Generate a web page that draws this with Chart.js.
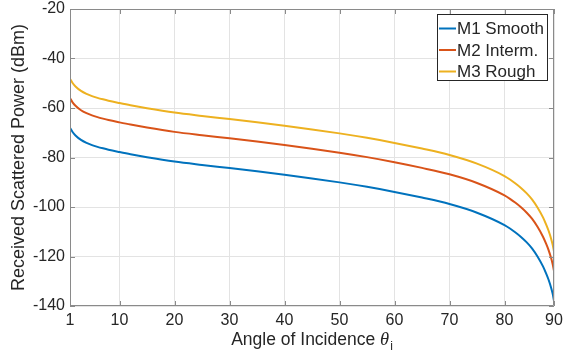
<!DOCTYPE html>
<html>
<head>
<meta charset="utf-8">
<script src="https://cdn.jsdelivr.net/npm/chart.js@4.4.1/dist/chart.umd.min.js"></script>
<style>
  html, body { margin: 0; padding: 0; background: #fff; }
</style>
</head>
<body>
<canvas id="chart" width="563" height="358"></canvas>
<script>
// angle of incidence (deg) and received power (dBm)
const angles = [1, 1.5, 2, 3, 4, 5, 6, 7, 8, 10, 12, 15, 20, 25, 30, 35, 40, 45, 50, 55, 60, 65, 70, 75,
  80, 81, 82, 83, 84, 85, 86, 87, 87.5, 88, 88.5, 88.75, 89];
const m1Smooth = [-68.0, -69.8, -71.1, -72.9, -74.1, -75.0, -75.7, -76.3, -76.85, -77.8, -78.7, -79.9,
  -81.65, -83.0, -84.25, -85.55, -86.95, -88.45, -90.05, -91.85, -93.9, -96.2, -98.8, -102.3,
  -107.3, -108.7, -110.3, -112.1, -114.2, -116.7, -120.0, -124.0, -126.5, -129.3, -132.8, -135.0, -137.9];
const m2Interm = [-56.0, -57.8, -59.1, -60.9, -62.1, -63.0, -63.7, -64.3, -64.85, -65.8, -66.7, -67.9,
  -69.65, -71.0, -72.25, -73.55, -74.95, -76.45, -78.05, -79.85, -81.9, -84.2, -86.8, -90.3,
  -95.3, -96.7, -98.3, -100.1, -102.2, -104.7, -108.0, -112.0, -114.5, -117.3, -120.8, -123.0, -125.8];
const m3Rough = [-48.2, -50.0, -51.3, -53.1, -54.3, -55.2, -55.9, -56.5, -57.05, -58.0, -58.9, -60.1,
  -61.85, -63.2, -64.45, -65.75, -67.15, -68.65, -70.25, -72.05, -74.1, -76.4, -79.0, -82.5,
  -87.5, -88.9, -90.5, -92.3, -94.4, -96.9, -100.2, -104.2, -106.7, -109.5, -113.0, -115.2, -118.0];

const seriesNames = ['M1 Smooth', 'M2 Interm.', 'M3 Rough'];
const seriesColors = ['#0072BD', '#D95319', '#EDB120'];

const xTickValues = [1, 10, 20, 30, 40, 50, 60, 70, 80, 89];
const xTickLabels = ['1', '10', '20', '30', '40', '50', '60', '70', '80', '90'];

const FONT = '"Liberation Sans", Arial, Helvetica, sans-serif';
const TXT = '#262626';
const AXIS = '#8a8a8a';

function toPoints(ys) {
  return angles.map((a, i) => ({ x: a, y: ys[i] }));
}

// box, inward ticks, axis titles and the boxed legend, MATLAB style
const matlabDecor = {
  id: 'matlabDecor',
  afterDatasetsDraw(chart) {
    const { ctx, chartArea: a, scales } = chart;
    ctx.save();
    ctx.strokeStyle = AXIS;
    ctx.lineWidth = 1;
    ctx.beginPath();
    ctx.rect(Math.round(a.left) + 0.5, Math.round(a.top) + 0.5,
      Math.round(a.right - a.left) - 1, Math.round(a.bottom - a.top) - 1);
    ctx.stroke();

    const tl = 5;
    ctx.beginPath();
    scales.x.ticks.forEach(t => {
      const px = Math.round(scales.x.getPixelForValue(t.value)) + 0.5;
      ctx.moveTo(px, a.bottom); ctx.lineTo(px, a.bottom - tl);
      ctx.moveTo(px, a.top); ctx.lineTo(px, a.top + tl);
    });
    scales.y.ticks.forEach(t => {
      const py = Math.round(scales.y.getPixelForValue(t.value)) + 0.5;
      ctx.moveTo(a.left, py); ctx.lineTo(a.left + tl, py);
      ctx.moveTo(a.right, py); ctx.lineTo(a.right - tl, py);
    });
    ctx.stroke();
    ctx.restore();
  },
  afterDraw(chart) {
    const { ctx, chartArea: a } = chart;
    ctx.save();
    ctx.fillStyle = TXT;

    // y title
    ctx.save();
    ctx.translate(19, (a.top + a.bottom) / 2);
    ctx.rotate(-Math.PI / 2);
    ctx.font = '18px ' + FONT;
    ctx.textAlign = 'center';
    ctx.textBaseline = 'middle';
    ctx.fillText('Received Scattered Power (dBm)', 0, 0);
    ctx.restore();

    // x title with italic theta and subscript i
    const main = 'Angle of Incidence ';
    const fMain = '17.5px ' + FONT;
    const fTheta = 'italic 18.5px "Liberation Serif", "DejaVu Serif", serif';
    const fSub = '12px ' + FONT;
    ctx.font = fMain; const w1 = ctx.measureText(main).width;
    ctx.font = fTheta; const w2 = ctx.measureText('θ').width;
    ctx.font = fSub; const w3 = ctx.measureText('i').width;
    const x0 = (a.left + a.right) / 2 - (w1 + w2 + w3 + 1) / 2;
    const base = 345;
    ctx.textAlign = 'left';
    ctx.textBaseline = 'alphabetic';
    ctx.font = fMain; ctx.fillText(main, x0, base);
    ctx.font = fTheta; ctx.fillText('θ', x0 + w1, base);
    ctx.font = fSub; ctx.fillText('i', x0 + w1 + w2 + 1, base + 5);

    // legend
    const lx = 437.5, ly = 14.5, lw = 110, lh = 66;
    ctx.fillStyle = '#fff';
    ctx.fillRect(lx, ly, lw, lh);
    ctx.strokeStyle = TXT;
    ctx.lineWidth = 1;
    ctx.strokeRect(lx, ly, lw, lh);
    ctx.font = '17px ' + FONT;
    ctx.textBaseline = 'middle';
    chart.data.datasets.forEach((ds, i) => {
      const cy = 28.5 + i * 21.5;
      ctx.strokeStyle = ds.borderColor;
      ctx.lineWidth = 2;
      ctx.beginPath();
      ctx.moveTo(439, cy); ctx.lineTo(456, cy);
      ctx.stroke();
      ctx.fillStyle = TXT;
      ctx.fillText(ds.label, 457, cy + 1);
    });
    ctx.restore();
  }
};

new Chart(document.getElementById('chart'), {
  type: 'line',
  data: {
    datasets: [
      { label: seriesNames[0], data: toPoints(m1Smooth), borderColor: seriesColors[0] },
      { label: seriesNames[1], data: toPoints(m2Interm), borderColor: seriesColors[1] },
      { label: seriesNames[2], data: toPoints(m3Rough), borderColor: seriesColors[2] },
    ],
  },
  options: {
    responsive: false,
    animation: false,
    layout: { padding: { top: 9, right: 9, left: 0, bottom: 0 } },
    elements: {
      point: { radius: 0 },
      line: { borderWidth: 2, cubicInterpolationMode: 'monotone', fill: false },
    },
    plugins: { legend: { display: false }, tooltip: { enabled: false } },
    scales: {
      x: {
        type: 'linear',
        min: 1,
        max: 89,
        afterBuildTicks: s => { s.ticks = xTickValues.map(v => ({ value: v })); },
        afterFit: s => { s.height = 52; s.paddingLeft = 0; s.paddingRight = 0; },
        ticks: {
          callback: (v, i) => xTickLabels[i],
          autoSkip: false,
          maxRotation: 0,
          padding: 5,
          color: TXT,
          font: { family: FONT, size: 16 },
        },
        grid: { color: '#e3e3e3', drawTicks: false },
        border: { display: false },
      },
      y: {
        min: -140,
        max: -20,
        afterFit: s => { s.width = 70; s.paddingTop = 0; s.paddingBottom = 0; },
        ticks: {
          stepSize: 20,
          padding: 5,
          color: TXT,
          font: { family: FONT, size: 16 },
        },
        grid: { color: '#e3e3e3', drawTicks: false },
        border: { display: false },
      },
    },
  },
  plugins: [matlabDecor],
});
</script>
</body>
</html>
